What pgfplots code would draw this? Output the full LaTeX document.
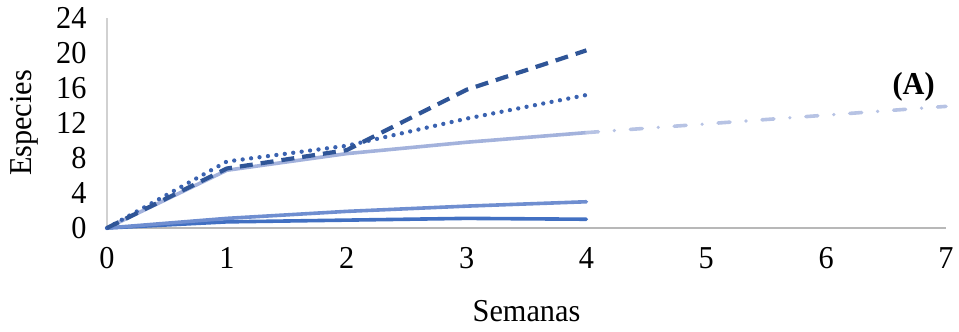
\documentclass[border=0pt]{standalone}
\usepackage{fontspec}
\setmainfont{Liberation Serif}[FakeStretch=0.95]
\usepackage{pgfplots}
\pgfplotsset{compat=1.18}
\definecolor{cdash}{HTML}{2F5597}
\definecolor{cdot}{HTML}{3A62B0}
\definecolor{clight}{HTML}{A3B2DC}
\definecolor{cmed}{HTML}{6F8ED0}
\definecolor{cdark}{HTML}{4270C2}
\definecolor{cdd}{HTML}{B7C3E4}
\newcommand\bigf{\fontsize{32}{38}\selectfont}
\begin{document}
\begin{tikzpicture}[font=\bigf]
\begin{axis}[at={(0,0)}, anchor=south west, scale only axis,
  width=839bp, height=210bp,
  xmin=0, xmax=7, ymin=0, ymax=24,
  xtick={0,...,7}, ytick={0,4,...,24},
  axis lines*=left,
  x axis line style={draw=black!28, line width=1.2pt},
  y axis line style={draw=black!18, line width=1.2pt},
  major tick length=0pt,
  /pgf/number format/assume math mode=true,
  tick label style={font=\bigf},
  label style={font=\bigf},
  xticklabel style={yshift=-16bp},
  yticklabel style={xshift=-17bp},
  xlabel={Semanas}, ylabel={Especies},
  xlabel style={at={(axis description cs:0.5,-0.395)}, anchor=center},
  ylabel style={at={(axis description cs:-0.098,0.5)}, anchor=center},
  clip=false,
  every axis plot/.append style={line width=3.6bp, line cap=round, line join=round},
]
\addplot[cdark] coordinates {(0,0)(1,0.7)(2,0.9)(3,1.1)(4,1.0)};
\addplot[cmed] coordinates {(0,0)(1,1.1)(2,1.9)(3,2.5)(4,3.0)};
\addplot[clight] coordinates {(0,0)(1,6.6)(2,8.5)(3,9.8)(4,10.9)};
\addplot[cdd, dash pattern=on 12bp off 16bp on 0bp off 16bp] coordinates {(4,10.9)(5,11.9)(6,12.9)(7,13.9)};
\addplot[cdot, line width=4.3bp, dash pattern=on 0bp off 8.5bp] coordinates {(0,0)(1,7.6)(2,9.4)(3,12.5)(4,15.2)};
\addplot[cdash, line width=4.2bp, dash pattern=on 13bp off 8bp, line cap=butt] coordinates {(0,0)(1,6.8)(2,8.9)(3,15.8)(4,20.3)};
\node[font=\bigf\bfseries] at (axis cs:6.73,16.1) {(A)};
\end{axis}
\pgfresetboundingbox
\path[use as bounding box] (-107bp,-104bp) rectangle (852bp,228bp);
\end{tikzpicture}
\end{document}
